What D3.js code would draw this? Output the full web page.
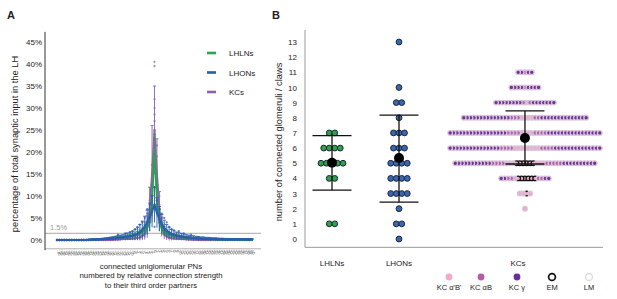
<!DOCTYPE html>
<html lang="en">
<head>
<meta charset="utf-8">
<title>PN input and claws</title>
<script src="https://cdnjs.cloudflare.com/ajax/libs/d3/7.8.5/d3.min.js"></script>
<style>
  body { margin: 0; background: #fff; }
  svg text { font-family: "Liberation Sans", Arial, sans-serif; fill: #222; }
</style>
</head>
<body>
<svg width="617" height="299"></svg>
<script>
// ---------- panel A data: % of synaptic input per ranked PN ----------
const pnRanks = d3.range(-40, 41); // x tick labels

const kcMean = [
  0,0,0,0,0,0,0,0,0,0,
  0,0,0,0,0,0,0,0,0,0,
  0,0,0,0.05,0.1,0.1,0.15,0.2,0.2,0.25,
  0.3,0.35,0.4,0.5,0.6,0.9,1.5,3,7,15,
  25,15,7,3,1.4,0.8,0.5,0.4,0.35,0.3,
  0.25,0.2,0.2,0.15,0.1,0.1,0.05,0.05,0,0,
  0,0,0,0,0,0,0,0,0,0,
  0,0,0,0,0,0,0,0,0,0,
  0];
const kcSd = [
  0,0,0,0,0,0,0,0,0,0,
  0,0,0,0,0,0,0,0,0,0,
  0,0,0,0.1,0.15,0.15,0.2,0.25,0.25,0.3,
  0.35,0.4,0.45,0.55,0.7,0.9,1.4,2.5,5,11,
  10,8,4,2.2,1.2,0.8,0.6,0.5,0.4,0.35,
  0.3,0.25,0.25,0.2,0.15,0.15,0.1,0.1,0,0,
  0,0,0,0,0,0,0,0,0,0,
  0,0,0,0,0,0,0,0,0,0,
  0];
const lhlnMean = [
  0,0,0,0,0,0,0,0,0,0,
  0,0,0,0,0.1,0.1,0.15,0.15,0.2,0.2,
  0.25,0.3,0.3,0.35,0.4,0.45,0.5,0.55,0.6,0.7,
  0.8,0.9,1.0,1.2,1.5,1.8,2.3,2.9,4,9,
  20,9,4,2.6,2.0,1.5,1.2,1.0,0.9,0.8,
  0.7,0.6,0.55,0.5,0.45,0.4,0.35,0.3,0.3,0.25,
  0.25,0.2,0.2,0.2,0.15,0.15,0.15,0.1,0.1,0.1,
  0.1,0.1,0.1,0.05,0.05,0.05,0.05,0.05,0.05,0.05,
  0.05];
const lhlnSd = [
  0,0,0,0,0,0,0,0,0,0,
  0,0,0,0,0.1,0.1,0.15,0.15,0.15,0.2,
  0.2,0.25,0.25,0.25,0.3,0.3,0.35,0.35,0.4,0.45,
  0.5,0.55,0.6,0.7,0.8,0.9,1.1,1.4,2,3.5,
  4,3.5,2,1.4,1.0,0.8,0.6,0.5,0.45,0.4,
  0.4,0.35,0.35,0.3,0.3,0.25,0.25,0.25,0.2,0.2,
  0.2,0.2,0.15,0.15,0.15,0.15,0.15,0.15,0.1,0.1,
  0.1,0.1,0.1,0.1,0.1,0.1,0.1,0.1,0.1,0.1,
  0.1];
const lhonMean = [
  0,0,0,0,0,0,0,0,0,0,
  0,0,0,0.05,0.05,0.1,0.1,0.1,0.15,0.15,
  0.2,0.25,0.3,0.35,0.4,0.5,0.55,0.6,0.7,0.8,
  0.9,1.0,1.2,1.4,1.8,2.3,3.0,4.0,5.2,6.5,
  8,6.2,4.8,3.6,2.7,2.1,1.7,1.4,1.2,1.0,
  0.9,0.8,0.7,0.6,0.55,0.5,0.45,0.4,0.35,0.3,
  0.3,0.25,0.25,0.2,0.2,0.2,0.15,0.15,0.15,0.1,
  0.1,0.1,0.1,0.1,0.1,0.1,0.1,0.1,0.1,0.1,
  0.1];
const lhonSd = [
  0,0,0,0,0,0,0,0,0,0,
  0,0,0,0.1,0.1,0.15,0.15,0.2,0.2,0.25,
  0.25,0.3,0.35,0.4,0.45,0.5,0.55,0.6,0.7,0.8,
  0.9,1.0,1.2,1.4,1.7,2.0,2.4,2.8,3.2,3.6,
  4,3.4,2.8,2.2,1.8,1.4,1.2,1.0,0.9,0.8,
  0.75,0.7,0.65,0.6,0.55,0.5,0.5,0.45,0.45,0.4,
  0.4,0.35,0.35,0.35,0.3,0.3,0.3,0.25,0.25,0.25,
  0.25,0.2,0.2,0.2,0.2,0.2,0.2,0.2,0.2,0.2,
  0.2];

// single neurons that stand out, [rank index, %]
const kcDots = [[40,40.5],[40,39.5],[40,32],[40,30],[40,28.5],[40,27],[40,23],[40,21],
  [41,21.5],[41,19],[39,17],[39,15],[41,13],[38,9],[42,10],[42,8],[37,6],[43,5],[36,4],[44,3.5]];
const lhlnDots = [[40,23],[40,17],[39,12],[41,13],[38,6],[42,7],[37,4],[43,4]];
const lhonDots = [[40,12],[40,3],[39,10],[41,9],[38,8],[42,7],[37,7],[43,6],[36,5],[44,5],
  [35,4],[45,4],[34,3.5],[46,3],[33,3],[47,2.5],[32,2.5],[48,2.2],[31,2],[50,2],[30,1.8],
  [52,1.5],[28,1.5],[55,1.2],[25,1.2]];

const yTicksA = [0,5,10,15,20,25,30,35,40,45];
const threshold = 1.5;

// ---------- panel B data: glomeruli / claws per neuron ----------
const groups = ["LHLNs", "LHONs", "KCs"];
const groupSlot = [0, 1, 2.88];
const lhlnLevels = [1,4,5,6,7];
const lhlnCounts = [2,2,5,4,2];
const lhonLevels = [0,1,2,3,4,5,6,7,8,9,10,13];
const lhonCounts = [1,2,1,4,4,4,3,3,1,2,1,1];
const groupMean = [5.03, 5.35, 6.67];
const groupLow  = [3.23, 2.43, 4.95];
const groupHigh = [6.82, 8.18, 8.45];

const kcLevels = [11,10,9,8,7,6,5,4,3,2];
const kcGamma  = [4,8,15,28,33,29,21,4,0,0];
const kcAB     = [1,1,2,5,8,8,9,4,0,0];
const kcApBp   = [0,0,1,4,4,8,12,7,4,1];
const kcEM     = [0,0,0,0,0,0,6,6,1,0];
const yTicksB = d3.range(0, 14);

const legendB = ["KC α'B'", "KC αB", "KC γ", "EM", "LM"];

// ---------- drawing ----------
const svg = d3.select("svg");
const green = "#27a64b", blue = "#2c5dab", purple = "#9160ab";
const kcCol = {apbp: "#e6aecb", ab: "#b05fab", g: "#6a3597"};

// panel labels
svg.append("text").attr("x", 7).attr("y", 19).text("A")
   .style("font-weight", "bold").style("font-size", "11px");
svg.append("text").attr("x", 272).attr("y", 19).text("B")
   .style("font-weight", "bold").style("font-size", "11px");

// ----- A -----
const xA = d3.scalePoint().domain(d3.range(pnRanks.length)).range([57, 252]);
const yA = d3.scaleLinear().domain([0, 45]).range([240, 42]);
const gA = svg.append("g");

gA.append("line").attr("x1", 45).attr("x2", 261)
  .attr("y1", yA(threshold)).attr("y2", yA(threshold))
  .attr("stroke", "#b8b8b8").attr("stroke-width", 1.4);
gA.append("text").attr("x", 50).attr("y", yA(threshold) - 3).text("1.5%")
  .style("font-size", "7.5px").style("fill", "#999");
gA.append("line").attr("x1", 45).attr("x2", 261)
  .attr("y1", yA(-2)).attr("y2", yA(-2))
  .attr("stroke", "#b0b0b0").attr("stroke-width", 1);

gA.append("g").attr("transform", "translate(45,0)")
  .call(d3.axisLeft(yA).tickValues(yTicksA).tickFormat(d => d + "%").tickSize(0).tickPadding(3))
  .call(g => g.select(".domain").remove())
  .selectAll("text").style("font-size", "8px");
gA.append("line").attr("x1", 45).attr("x2", 45)
  .attr("y1", yA(47.3)).attr("y2", yA(-2.3)).attr("stroke", "#333");

// tiny rank labels
gA.selectAll(".rank").data(pnRanks).join("text").attr("class", "rank")
  .attr("transform", (d, i) => `translate(${xA(i) - 1},251) rotate(60)`)
  .text(d => d).style("font-size", "4px").style("fill", "#555");

const series = [
  {mean: kcMean, sd: kcSd, dots: kcDots, color: purple},
  {mean: lhlnMean, sd: lhlnSd, dots: lhlnDots, color: green},
  {mean: lhonMean, sd: lhonSd, dots: lhonDots, color: blue}
];
const lineA = d3.line().x((d, i) => xA(i)).y(d => yA(d));

series.forEach(s => {
  const g = gA.append("g");
  const bars = s.mean.map((m, i) => ({i, lo: Math.max(m - s.sd[i], -0.9), hi: m + s.sd[i]}))
                     .filter(b => b.hi > b.lo + 0.01);
  g.selectAll(".eb").data(bars).join("line")
    .attr("x1", d => xA(d.i)).attr("x2", d => xA(d.i))
    .attr("y1", d => yA(d.lo)).attr("y2", d => yA(d.hi))
    .attr("stroke", s.color).attr("stroke-width", 0.9);
  g.selectAll(".cap").data(bars).join("line")
    .attr("x1", d => xA(d.i) - 1.6).attr("x2", d => xA(d.i) + 1.6)
    .attr("y1", d => yA(d.hi)).attr("y2", d => yA(d.hi))
    .attr("stroke", s.color).attr("stroke-width", 0.9);
  g.selectAll(".dot").data(s.dots).join("circle")
    .attr("cx", d => xA(d[0])).attr("cy", d => yA(d[1])).attr("r", 1.1)
    .attr("fill", s.color).attr("opacity", 0.8);
  g.append("path").datum(s.mean).attr("d", lineA)
    .attr("fill", "none").attr("stroke", s.color).attr("stroke-width", 2);
  g.selectAll(".pt").data(s.mean).join("circle")
    .attr("cx", (d, i) => xA(i)).attr("cy", d => yA(d)).attr("r", 1.2)
    .attr("fill", s.color);
});

// legend A
const legA = gA.append("g");
[["LHLNs", green], ["LHONs", blue], ["KCs", purple]].forEach((e, k) => {
  const y = 53 + k * 19.5;
  legA.append("line").attr("x1", 207).attr("x2", 216).attr("y1", y).attr("y2", y)
    .attr("stroke", e[1]).attr("stroke-width", 2.6);
  legA.append("text").attr("x", 229).attr("y", y + 3).text(e[0]).style("font-size", "8px");
});

gA.append("text").attr("transform", `translate(18,144) rotate(-90)`)
  .attr("text-anchor", "middle").style("font-size", "9.3px")
  .text("percentage of total synaptic input in the LH");
["connected uniglomerular PNs", "numbered by relative connection strength",
 "to their third order partners"].forEach((t, k) => {
  gA.append("text").attr("x", 151).attr("y", 269 + k * 9.3).attr("text-anchor", "middle")
    .style("font-size", "7.8px").text(t);
});

// ----- B -----
const xB = d3.scaleLinear().domain([0, 1]).range([332, 399]);
const yB = d3.scaleLinear().domain([0, 13]).range([239, 42]);
const gB = svg.append("g");

gB.append("g").attr("transform", "translate(305,0)")
  .call(d3.axisLeft(yB).tickValues(yTicksB).tickFormat(d3.format("d")).tickSize(0).tickPadding(8))
  .call(g => g.select(".domain").remove())
  .selectAll("text").style("font-size", "8px");
gB.append("line").attr("x1", 305).attr("x2", 305).attr("y1", yB(13.8)).attr("y2", yB(-0.55))
  .attr("stroke", "#999");
gB.append("line").attr("x1", 305).attr("x2", 603).attr("y1", yB(-0.55)).attr("y2", yB(-0.55))
  .attr("stroke", "#999");

gB.append("text").attr("transform", `translate(282,142) rotate(-90)`)
  .attr("text-anchor", "middle").style("font-size", "9.3px")
  .text("number of connected glomeruli / claws");

gB.selectAll(".cat").data(groups).join("text")
  .attr("x", (d, i) => xB(groupSlot[i]) - (i === 2 ? 7 : 0)).attr("y", 266)
  .attr("text-anchor", "middle").style("font-size", "8px").text(d => d);

// LHLN / LHON dot rows
function rowDots(levels, counts, slot, step) {
  const out = [];
  levels.forEach((lv, k) => {
    const n = counts[k];
    for (let j = 0; j < n; j++) out.push({x: xB(slot) + (j - (n - 1) / 2) * step, v: lv});
  });
  return out;
}
[[lhlnLevels, lhlnCounts, 0, "#2ea14c"], [lhonLevels, lhonCounts, 1, "#3b66b2"]].forEach(a => {
  gB.append("g").selectAll("circle").data(rowDots(a[0], a[1], groupSlot[a[2]], 5.5)).join("circle")
    .attr("cx", d => d.x).attr("cy", d => yB(d.v)).attr("r", 2.9)
    .attr("fill", a[3]).attr("stroke", "#1c2735").attr("stroke-width", 1);
});

// KC beeswarm rows, built from the centre outwards
const kcDotsB = [];
kcLevels.forEach((lv, k) => {
  const types = [];
  for (let j = 0; j < kcApBp[k]; j++) types.push("apbp");
  for (let j = 0; j < kcAB[k]; j++) types.push("ab");
  for (let j = 0; j < kcGamma[k]; j++) types.push("g");
  const n = types.length, step = 3.4;
  types.forEach((t, j) => {
    let off;
    if (n % 2) off = j === 0 ? 0 : Math.ceil(j / 2) * (j % 2 ? 1 : -1);
    else off = (Math.floor(j / 2) + 0.5) * (j % 2 ? -1 : 1);
    kcDotsB.push({x: xB(groupSlot[2]) + off * step, v: lv, t, em: j < kcEM[k]});
  });
});
gB.append("g").selectAll("circle").data(kcDotsB).join("circle")
  .attr("cx", d => d.x).attr("cy", d => yB(d.v)).attr("r", 2.3)
  .attr("fill", d => kcCol[d.t])
  .attr("stroke", d => d.em ? "#111" : "#d9c2d9").attr("stroke-width", 1.3);

// mean and SD
groups.forEach((gname, i) => {
  const cx = xB(groupSlot[i]);
  const g = gB.append("g").attr("stroke", "#111").attr("stroke-width", 1.3);
  g.append("line").attr("x1", cx).attr("x2", cx).attr("y1", yB(groupLow[i])).attr("y2", yB(groupHigh[i]));
  [groupLow[i], groupHigh[i]].forEach(v => {
    g.append("line").attr("x1", cx - 19.5).attr("x2", cx + 19.5).attr("y1", yB(v)).attr("y2", yB(v));
  });
  gB.append("circle").attr("cx", cx).attr("cy", yB(groupMean[i])).attr("r", 5).attr("fill", "#000");
});

// legend B
const legFill = ["#f1a8c9", "#b65aa9", "#6a2f96", "#fff", "#fff"];
const legStroke = ["none", "none", "none", "#111", "#d8d8d8"];
const legXs = [449, 481, 517, 552, 589];
legendB.forEach((t, k) => {
  gB.append("circle").attr("cx", legXs[k]).attr("cy", 277).attr("r", 3.4)
    .attr("fill", legFill[k]).attr("stroke", legStroke[k]).attr("stroke-width", k === 3 ? 1.7 : 1.1);
  gB.append("text").attr("x", legXs[k]).attr("y", 290).attr("text-anchor", "middle")
    .style("font-size", "7.5px").text(t);
});
</script>
</body>
</html>
